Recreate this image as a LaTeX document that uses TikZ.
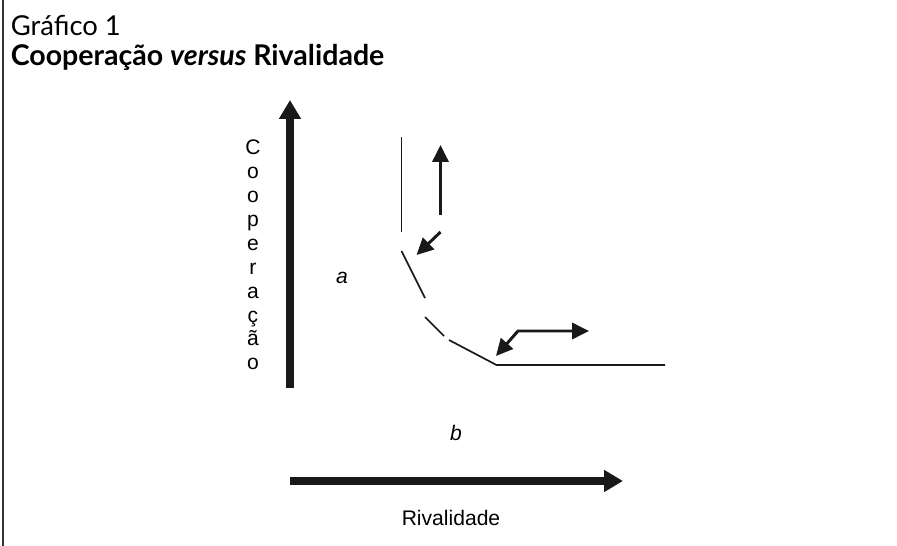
\documentclass[tikz,border=0pt]{standalone}
\usepackage{fontspec}
\setmainfont{Liberation Sans}
\newfontfamily\titlefont{Lato}
\usetikzlibrary{arrows.meta,positioning}
\tikzset{
  axisarrow/.style={-{Triangle[length=0.47cm,width=0.52cm]}, line width=5.6pt, draw=black!90},
  curveseg/.style={line width=1.2pt, draw=black!90},
  movearrow/.style={-{Triangle[length=0.42cm,width=0.4cm]}, line width=2.1pt, draw=black!90},
  movearrows/.style={movearrow, {Triangle[length=0.42cm,width=0.4cm]}-{Triangle[length=0.42cm,width=0.4cm]}},
  axislabel/.style={font=\fontsize{15}{17}\selectfont, align=center, inner sep=0pt},
  arealabel/.style={font=\fontsize{15}{17}\selectfont\itshape, inner sep=0pt},
}

\begin{document}
\begin{tikzpicture}[x=0.025cm, y=-0.025cm]
  \useasboundingbox (0,0) rectangle (897,546);
  \draw[line width=0.8pt, black!80] (3,0) -- (3,546);
  % title
  \node (title) [anchor=base west, inner sep=0pt, font=\titlefont\fontsize{19.5}{22}\selectfont] at (10.5,35) {Gráfico 1};
  \node (subtitle) [anchor=base west, inner sep=0pt, font=\titlefont\bfseries\fontsize{20.3}{22}\selectfont] at (10.5,65) {Cooperação \textit{versus} Rivalidade};
  % axes
  \coordinate (yfoot) at (290,388);
  \coordinate (ytip) at (290,100);
  \coordinate (xfoot) at (290,481);
  \coordinate (xtip) at (623,481);
  \draw[axisarrow] (yfoot) -- (ytip);
  \draw[axisarrow] (xfoot) -- (xtip);
  \node (ylab) [axislabel] at (253,255) {C\\o\\o\\p\\e\\r\\a\\ç\\ã\\o};
  \node (xlab) [axislabel] at (451,518) {Rivalidade};
  \node (la) [arealabel] at (342,277.5) {a};
  \node (lb) [arealabel] at (456,433) {b};
  % curve
  \coordinate (c1) at (401.5,137);  \coordinate (c2) at (401.5,232);
  \coordinate (c3) at (401.5,251);  \coordinate (c4) at (425,298);
  \coordinate (c5) at (425,317);    \coordinate (c6) at (444,336);
  \coordinate (c7) at (449,340);    \coordinate (c8) at (496.5,365);
  \coordinate (c9) at (665,365);
  \draw[curveseg] (c1) -- (c2);
  \draw[curveseg] (c3) -- (c4);
  \draw[curveseg] (c5) -- (c6);
  \draw[curveseg] (c7) -- (c8) -- (c9);
  % movements
  \coordinate (m1) at (440.5,215);  \coordinate (m2) at (440.5,145);
  \coordinate (m3) at (440.5,232);  \coordinate (m4) at (416.5,255);
  \coordinate (m5) at (496,356);    \coordinate (m6) at (518,331);
  \coordinate (m7) at (589,331);
  \draw[movearrow] (m1) -- (m2);
  \draw[movearrow] (m3) -- (m4);
  \draw[movearrows] (m5) -- (m6) -- (m7);
\end{tikzpicture}
\end{document}
